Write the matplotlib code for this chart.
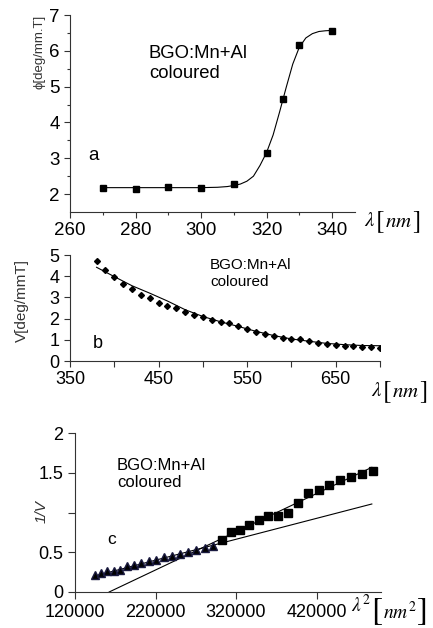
import matplotlib
matplotlib.use('Agg')
import matplotlib.pyplot as plt
import numpy as np

plt.rcParams['font.family'] = ['Liberation Sans', 'DejaVu Sans']
plt.rcParams['mathtext.fontset'] = 'stix'

W, H = 433, 628

# panel a: Faraday rotation vs wavelength
lam_a = [270, 280, 290, 300, 310, 320, 325, 330, 340]
phi_a = [2.17, 2.15, 2.2, 2.18, 2.27, 3.16, 4.66, 6.15, 6.56]
# fitted sigmoid
fit_lam_a = [270, 280, 290, 300, 305, 308, 310, 312, 314, 316, 318, 320,
             322, 324, 326, 328, 330, 332, 334, 336, 338, 340]
fit_phi_a = [2.18, 2.18, 2.18, 2.18, 2.19, 2.21, 2.24, 2.28, 2.36, 2.5, 2.8, 3.16,
             3.65, 4.3, 4.98, 5.63, 6.1, 6.36, 6.48, 6.54, 6.56, 6.57]

# panel b: Verdet constant vs wavelength
lam_b = [380, 390, 400, 410, 420, 430, 440, 450, 460, 470, 480, 490, 500,
         510, 520, 530, 540, 550, 560, 570, 580, 590, 600, 610, 620, 630,
         640, 650, 660, 670, 680, 690, 700]
v_b = [4.72, 4.29, 3.98, 3.65, 3.40, 3.10, 2.96, 2.75, 2.61, 2.52, 2.31, 2.15, 2.08,
       1.93, 1.85, 1.78, 1.65, 1.51, 1.37, 1.27, 1.18, 1.07, 1.03, 1.02, 0.94, 0.87,
       0.78, 0.76, 0.72, 0.69, 0.67, 0.67, 0.62]
fit_lam_b = [380, 400, 420, 440, 460, 480, 500, 520, 540, 560, 580, 600, 620, 640, 660, 680, 700]
fit_v_b = [4.42, 3.98, 3.55, 3.2, 2.83, 2.42, 2.1, 1.85, 1.63, 1.4, 1.2, 1.04,
           0.93, 0.83, 0.77, 0.73, 0.72]

# panel c: 1/V vs lambda^2
lam2_tri = [144400, 152100, 160000, 168100, 176400, 184900, 193600, 202500, 211600,
            220900, 230400, 240100, 250000, 260100, 270400, 280900, 291600]
inv_tri = [0.21, 0.24, 0.26, 0.26, 0.28, 0.33, 0.335, 0.365, 0.386, 0.407, 0.44,
           0.45, 0.474, 0.503, 0.532, 0.553, 0.583]
lam2_sq = [302500, 313600, 324900, 336400, 348100, 360000, 372100, 384400,
           396900, 409600, 422500, 435600, 448900, 462400, 476100, 490000]
inv_sq = [0.65, 0.755, 0.784, 0.847, 0.91, 0.952, 0.952, 1.00, 1.12, 1.245,
          1.279, 1.35, 1.413, 1.442, 1.484, 1.518]
steep_x = [162400, 488600]
steep_y = [0, 1.568]
shallow_x = [143900, 488600]
shallow_y = [0.2, 1.107]


def px_axes(left, top, right, bottom):
    return [left / W, 1 - bottom / H, (right - left) / W, (bottom - top) / H]


def ftext(x, y, s, **kw):
    return fig.text(x / W, 1 - y / H, s, **kw)


def style(ax, size):
    for sp in ['top', 'right']:
        ax.spines[sp].set_visible(False)
    for sp in ['left', 'bottom']:
        ax.spines[sp].set_linewidth(0.8)
        ax.spines[sp].set_color('#333333')
    ax.tick_params(which='both', direction='out', width=0.8, color='#333333',
                   labelsize=size)
    ax.tick_params(which='major', length=4)
    ax.tick_params(which='minor', length=2.5)


def chain(x, pieces):
    # place text pieces left to right, each starting where the last one ends
    rend = fig.canvas.get_renderer()
    for s, size, base, fam in pieces:
        kw = {'family': fam} if fam else {}
        t = ftext(x, base, s, ha='left', va='baseline', fontsize=size, **kw)
        x += t.get_window_extent(rend).width + 0.5


fig = plt.figure(figsize=(W / 100, H / 100), dpi=100)

# ---------------- a ----------------
ax1 = fig.add_axes(px_axes(70, 15, 355, 212))
ax1.plot(fit_lam_a, fit_phi_a, color='black', lw=0.8)
ax1.plot(lam_a, phi_a, 's', color='black', ms=5)
ax1.set_xlim(260, 347)
ax1.set_ylim(1.5, 7)
ax1.set_xticks([260, 280, 300, 320, 340])
ax1.set_xticks(np.arange(270, 347, 20), minor=True)
ax1.set_yticks([2, 3, 4, 5, 6, 7])
ax1.set_yticks(np.arange(2.5, 7, 1), minor=True)
style(ax1, 13.5)
ftext(40, 52, 'ϕ[deg/mm.T]', rotation=90, ha='center', va='center', fontsize=9.5,
      color='#333333')
ftext(149, 63.5, 'BGO:Mn+Al\ncoloured', ha='left', va='center', fontsize=13.3)
ftext(88, 155, 'a', ha='left', va='center', fontsize=13.5)
chain(364, [(r'$\lambda$', 15, 226, None), ('[', 18, 227, 'STIXGeneral'),
            (r'$nm$', 15, 227, None), (']', 18, 227, 'STIXGeneral')])

# ---------------- b ----------------
ax2 = fig.add_axes(px_axes(70, 255, 380, 361))
ax2.plot(fit_lam_b, fit_v_b, color='black', lw=0.8)
ax2.plot(lam_b, v_b, 'D', color='black', ms=3)
ax2.set_xlim(350, 700)
ax2.set_ylim(0, 5)
ax2.set_xticks([350, 450, 550, 650])
ax2.set_xticks([400, 500, 600, 700], minor=True)
ax2.set_yticks([0, 1, 2, 3, 4, 5])
style(ax2, 13)
ax2.tick_params(which='minor', length=4)
ftext(22, 300, 'V[deg/mmT]', rotation=90, ha='center', va='center', fontsize=11,
      color='#333333')
ftext(210, 273.5, 'BGO:Mn+Al\ncoloured', ha='left', va='center', fontsize=11)
ftext(93, 343, 'b', ha='left', va='center', fontsize=13)
chain(371, [(r'$\lambda$', 15, 396, None), ('[', 18, 397, 'STIXGeneral'),
            (r'$nm$', 15, 397, None), (']', 18, 397, 'STIXGeneral')])

# ---------------- c ----------------
ax3 = fig.add_axes(px_axes(75, 433, 381, 592))
ax3.plot(steep_x, steep_y, color='black', lw=0.8)
ax3.plot(shallow_x, shallow_y, color='black', lw=0.8)
ax3.plot(lam2_tri, inv_tri, '^', color='black', mec='#1a1a40', ms=5.5)
ax3.plot(lam2_sq, inv_sq, 's', color='black', ms=6)
ax3.set_xlim(120000, 500000)
ax3.set_ylim(0, 2)
ax3.set_xticks([120000, 220000, 320000, 420000])
ax3.set_yticks([0, 0.5, 1, 1.5, 2])
ax3.set_yticklabels(['0', '0.5', '', '1.5', '2'])
style(ax3, 13)
ax3.tick_params(which='major', length=5)
ftext(42, 512, '1/V', rotation=90, ha='center', va='center', fontsize=11,
      style='italic', color='#333333')
ftext(117, 474, 'BGO:Mn+Al\ncoloured', ha='left', va='center', fontsize=12)
ftext(107, 540, 'c', ha='left', va='center', fontsize=12.5)
chain(351, [(r'$\lambda^2$', 14, 612, None), ('[', 24, 619, 'STIXGeneral'),
            (r'$nm^2$', 14, 619, None), (']', 24, 619, 'STIXGeneral')])

fig.savefig('out.png', dpi=100)
